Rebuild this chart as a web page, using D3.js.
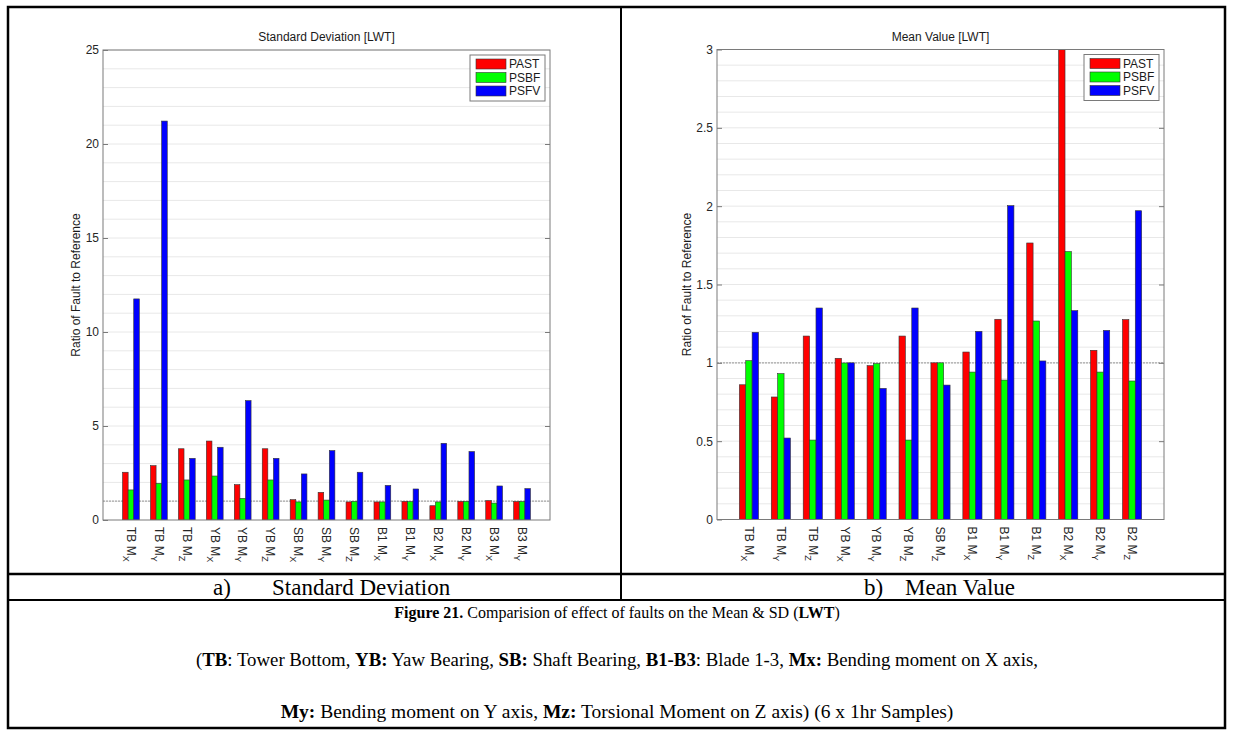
<!DOCTYPE html>
<html>
<head>
<meta charset="utf-8">
<script src="https://cdn.jsdelivr.net/npm/d3@7"></script>
<style>
  html, body { margin: 0; padding: 0; background: #fff; }
  svg { display: block; }
  .axis text { font-family: "Liberation Sans", Arial, sans-serif; font-size: 12px; fill: #262626; }
</style>
</head>
<body>
<svg id="fig" width="1233" height="733"></svg>
<script>
// ---- Standard deviation ratios (fault / reference) ----
const sdCategories = ["TB M_X", "TB M_Y", "TB M_Z", "YB M_X", "YB M_Y", "YB M_Z", "SB M_X", "SB M_Y",
                      "SB M_Z", "B1 M_X", "B1 M_Y", "B2 M_X", "B2 M_Y", "B3 M_X", "B3 M_Y"];
const sdPast = [2.54, 2.89, 3.79, 4.20, 1.88, 3.79, 1.08, 1.47, 0.96, 0.96, 0.99, 0.76, 0.99, 1.03, 0.98];
const sdPsbf = [1.60, 1.95, 2.13, 2.34, 1.15, 2.13, 0.96, 1.06, 0.99, 0.96, 0.98, 0.96, 0.99, 0.90, 0.98];
const sdPsfv = [11.76, 21.22, 3.28, 3.87, 6.35, 3.28, 2.45, 3.69, 2.54, 1.84, 1.65, 4.08, 3.64, 1.81, 1.67];
const sdTicks = [0, 5, 10, 15, 20, 25];

// ---- Mean value ratios (fault / reference) ----
const meanCategories = ["TB M_X", "TB M_Y", "TB M_Z", "YB M_X", "YB M_Y", "YB M_Z", "SB M_Z",
                        "B1 M_X", "B1 M_Y", "B1 M_Z", "B2 M_X", "B2 M_Y", "B2 M_Z"];
const meanPast = [0.86, 0.782, 1.171, 1.029, 0.982, 1.171, 1.0, 1.069, 1.278, 1.765, 3.0, 1.08, 1.276];
const meanPsbf = [1.014, 0.931, 0.507, 0.999, 0.995, 0.507, 1.0, 0.941, 0.89, 1.267, 1.71, 0.941, 0.884];
const meanPsfv = [1.195, 0.52, 1.35, 1.0, 0.837, 1.35, 0.858, 1.201, 2.003, 1.012, 1.333, 1.207, 1.971];
const meanTicks = [0, 0.5, 1, 1.5, 2, 2.5, 3];

const seriesNames = ["PAST", "PSBF", "PSFV"];
const seriesColors = ["#ff0000", "#00ff00", "#0000ff"];

const svg = d3.select("#fig");
const sans = "'Liberation Sans', Arial, sans-serif";
const serif = "'Liberation Serif', 'Times New Roman', serif";

function drawPanel(opt) {
  const g = svg.append("g");
  const n = opt.categories.length;
  const x = d3.scaleLinear().domain([0, n + 1]).range([opt.left, opt.right]);
  const y = d3.scaleLinear().domain([0, opt.ticks[opt.ticks.length - 1]]).range([opt.bottom, opt.top]);

  // minor grid
  const top = opt.ticks[opt.ticks.length - 1];
  const minor = d3.range(0, top + opt.minorStep / 2, opt.minorStep).slice(1);
  g.append("g").selectAll("line").data(minor).join("line")
    .attr("x1", opt.left).attr("x2", opt.right)
    .attr("y1", d => y(d)).attr("y2", d => y(d))
    .attr("stroke", "#e8e8e8").attr("stroke-width", 1);

  // reference ratio line
  g.append("line")
    .attr("x1", opt.left).attr("x2", opt.right)
    .attr("y1", y(1)).attr("y2", y(1))
    .attr("stroke", "#a8a8a8").attr("stroke-width", 1.2).attr("stroke-dasharray", "2,1");

  // grouped bars
  const clipId = "clip-" + opt.id;
  svg.append("clipPath").attr("id", clipId).append("rect")
    .attr("x", opt.left).attr("y", opt.top).attr("width", opt.right - opt.left).attr("height", opt.bottom - opt.top);
  const bw = 0.2;
  const barsG = g.append("g").attr("clip-path", `url(#${clipId})`);
  opt.series.forEach((vals, s) => {
    const off = (s - 1) * bw;
    barsG.append("g").selectAll("rect").data(vals).join("rect")
      .attr("x", (d, i) => x(i + 1 + off - bw / 2))
      .attr("width", x(bw) - x(0))
      .attr("y", d => y(d))
      .attr("height", d => y(0) - y(d))
      .attr("fill", seriesColors[s])
      .attr("stroke", "#333").attr("stroke-width", 0.6);
  });

  // axes box
  g.append("rect")
    .attr("x", opt.left).attr("y", opt.top)
    .attr("width", opt.right - opt.left).attr("height", opt.bottom - opt.top)
    .attr("fill", "none").attr("stroke", "#7a7a7a").attr("stroke-width", 1);

  const yl = g.append("g").attr("class", "axis").attr("transform", `translate(${opt.left},0)`)
    .call(d3.axisLeft(y).tickValues(opt.ticks).tickSize(-5).tickPadding(4).tickFormat(d3.format("")));
  yl.select(".domain").remove();
  yl.selectAll("line").attr("stroke", "#7a7a7a");
  const yr = g.append("g").attr("class", "axis").attr("transform", `translate(${opt.right},0)`)
    .call(d3.axisRight(y).tickValues(opt.ticks.slice(1, -1)).tickSize(-5).tickFormat(""));
  yr.select(".domain").remove();
  yr.selectAll("line").attr("stroke", "#7a7a7a");

  // category labels, rotated, with subscript axis letter
  const lbl = g.append("g").selectAll("text").data(opt.categories).join("text")
    .attr("transform", (d, i) => `translate(${x(i + 1)},${opt.bottom + 7}) rotate(90)`)
    .attr("dy", "0.35em")
    .attr("font-family", sans).attr("font-size", 12).attr("fill", "#262626");
  lbl.append("tspan").text(d => d.split("_")[0]);
  lbl.append("tspan").attr("dy", 4).attr("font-size", 9).text(d => d.split("_")[1]);

  // title
  g.append("text").attr("x", (opt.left + opt.right) / 2).attr("y", opt.top - 9)
    .attr("text-anchor", "middle").attr("font-family", sans).attr("font-size", 12).attr("fill", "#1a1a1a")
    .text(opt.title);

  // y label
  g.append("text")
    .attr("transform", `translate(${opt.ylabelX},${(opt.top + opt.bottom) / 2}) rotate(-90)`)
    .attr("text-anchor", "middle").attr("font-family", sans).attr("font-size", 12).attr("fill", "#1a1a1a")
    .text("Ratio of Fault to Reference");

  // legend
  const lg = g.append("g").attr("transform", `translate(${opt.right - 80},${opt.top + 5})`);
  lg.append("rect").attr("width", 75).attr("height", 46)
    .attr("fill", "#fff").attr("stroke", "#7a7a7a").attr("stroke-width", 1);
  seriesNames.forEach((name, s) => {
    lg.append("rect").attr("x", 6).attr("y", 4 + s * 13.5).attr("width", 30).attr("height", 10)
      .attr("fill", seriesColors[s]).attr("stroke", "#333").attr("stroke-width", 0.6);
    lg.append("text").attr("x", 39).attr("y", 9 + s * 13.5).attr("dy", "0.35em")
      .attr("font-family", sans).attr("font-size", 12).attr("fill", "#1a1a1a").text(name);
  });
}

drawPanel({
  id: "sd", categories: sdCategories, series: [sdPast, sdPsbf, sdPsfv], ticks: sdTicks, minorStep: 1,
  left: 103, right: 550, top: 50, bottom: 520, ylabelX: 80, title: "Standard Deviation [LWT]"
});
drawPanel({
  id: "mean", categories: meanCategories, series: [meanPast, meanPsbf, meanPsfv], ticks: meanTicks, minorStep: 0.1,
  left: 717, right: 1164, top: 49.5, bottom: 519.5, ylabelX: 691, title: "Mean Value [LWT]"
});

// ---- table frame ----
const frame = svg.append("g").attr("stroke", "#000").attr("fill", "none");
frame.append("rect").attr("x", 8).attr("y", 7).attr("width", 1217).attr("height", 721).attr("stroke-width", 2.5);
frame.append("line").attr("x1", 621).attr("x2", 621).attr("y1", 7).attr("y2", 600).attr("stroke-width", 2);
frame.append("line").attr("x1", 8).attr("x2", 1225).attr("y1", 574).attr("y2", 574).attr("stroke-width", 2.5);
frame.append("line").attr("x1", 8).attr("x2", 1225).attr("y1", 600).attr("y2", 600).attr("stroke-width", 2);

// ---- sub-figure labels ----
const cap = svg.append("g").attr("font-family", serif).attr("fill", "#000");
cap.append("text").attr("x", 213).attr("y", 595).attr("font-size", 23).text("a)");
cap.append("text").attr("x", 272).attr("y", 595).attr("font-size", 23).text("Standard Deviation");
cap.append("text").attr("x", 864).attr("y", 595).attr("font-size", 23).text("b)");
cap.append("text").attr("x", 905).attr("y", 595).attr("font-size", 23).text("Mean Value");

// ---- caption lines (bold runs marked with *) ----
const captionLines = [
  "*Figure 21.* Comparision of effect of faults on the Mean & SD (*LWT*)",
  "(*TB*: Tower Bottom, *YB:* Yaw Bearing, *SB:* Shaft Bearing, *B1-B3*: Blade 1-3, *Mx:* Bending moment on X axis,",
  "*My:* Bending moment on Y axis, *Mz:* Torsional Moment on Z axis) (6 x 1hr Samples)"
];
const captionY = [618, 666, 718];
const captionSize = [16, 18.8, 19.5];
captionLines.forEach((line, k) => {
  const t = cap.append("text").attr("x", 617).attr("y", captionY[k]).attr("text-anchor", "middle")
    .attr("font-size", captionSize[k]);
  line.split("*").forEach((part, j) => {
    if (part.length) t.append("tspan").attr("font-weight", j % 2 ? "bold" : "normal").text(part);
  });
});
</script>
</body>
</html>
